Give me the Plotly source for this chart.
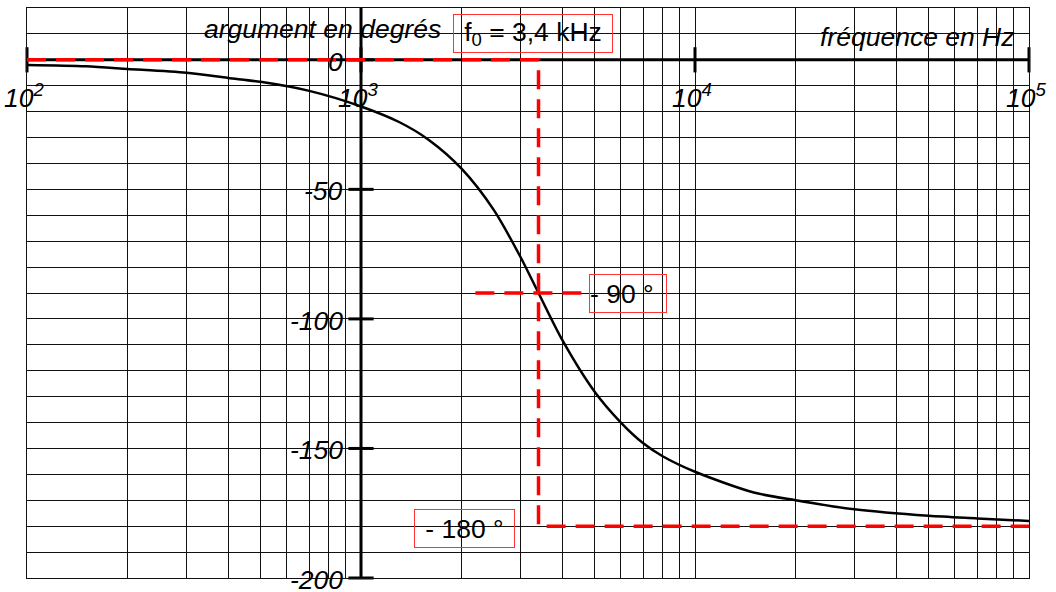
import numpy as np
import plotly.graph_objects as go

# Phase response of the filter (frequency in Hz, phase in degrees)
freq_hz = [100, 150, 200, 300, 400, 500, 700, 1000, 1300, 1600, 2000, 2500, 3000,
           3400, 4000, 5000, 6000, 7000, 8000, 10000, 15000, 20000, 30000, 50000,
           70000, 100000]
phase_deg = [-2, -2.5, -3.5, -5, -7, -8.5, -12, -18, -24, -31, -42, -58, -76,
             -90, -108, -128, -140, -148, -153, -159, -167, -170, -173.5, -176,
             -177, -178]

# Cut-off frequency and reference phases
f0_hz = 3400
phase_f0 = -90
phase_hf = -180
f_min, f_max = 100, 100000
y_min, y_max = -200, 20

# Axis decorations
decades = [2, 3, 4, 5]
y_ticks = [0, -50, -100, -150, -200]
y_tick_labels = ["0", "-50", "-100", "-150", "-200"]
grid_x = [m * 10 ** d for d in range(2, 5) for m in range(1, 10)] + [10 ** 5]
grid_y = list(range(-200, 21, 10))

FONT = "Liberation Sans, Arial, sans-serif"
BIG = 26.5

fig = go.Figure()

# axis lines through the origin (x at 0°, y at 1 kHz)
fig.add_trace(go.Scatter(x=[f_min, f_max], y=[0, 0], mode="lines",
                         line=dict(color="black", width=3), hoverinfo="skip"))
fig.add_trace(go.Scatter(x=[1000, 1000], y=[y_min, y_max], mode="lines",
                         line=dict(color="black", width=3), hoverinfo="skip"))

# tick marks crossing the axes
fig.add_trace(go.Scatter(x=[10 ** d for d in decades], y=[0] * len(decades),
                         mode="markers", cliponaxis=False,
                         marker=dict(symbol="line-ns", size=18,
                                     line=dict(color="black", width=3)),
                         hoverinfo="skip"))
fig.add_trace(go.Scatter(x=[1000] * len(y_ticks), y=y_ticks,
                         mode="markers", cliponaxis=False,
                         marker=dict(symbol="line-ew", size=18,
                                     line=dict(color="black", width=3)),
                         hoverinfo="skip"))

# phase curve
fig.add_trace(go.Scatter(x=freq_hz, y=phase_deg, mode="lines",
                         line=dict(color="black", width=2.5, shape="spline",
                                   smoothing=0.8),
                         hoverinfo="skip"))

# construction lines for f0 and the asymptote
red_dash = dict(color="#ff0000", width=3.5, dash="19px,10px")
fig.add_trace(go.Scatter(x=[f_min, f0_hz, f0_hz, f_max],
                         y=[0, 0, phase_hf, phase_hf], mode="lines",
                         line=red_dash, hoverinfo="skip"))
fig.add_trace(go.Scatter(x=[2200, 4800], y=[phase_f0, phase_f0], mode="lines",
                         line=red_dash, hoverinfo="skip"))

annotations = []
for d in decades:
    annotations.append(dict(x=d, y=-14, xref="x", yref="y", showarrow=False,
                            text=f"<i>10<sup>{d}</sup></i>", xanchor="center",
                            yanchor="middle", xshift=-3,
                            font=dict(family=FONT, size=BIG, color="black")))
for v, lab in zip(y_ticks, y_tick_labels):
    annotations.append(dict(x=3, y=v, xref="x", yref="y", showarrow=False,
                            text=f"<i>{lab}</i>", xanchor="right",
                            yanchor="middle", xshift=-16, yshift=-2,
                            font=dict(family=FONT, size=BIG, color="black")))
annotations.append(dict(x=2.885, y=12, xref="x", yref="y", showarrow=False,
                        text="<i>argument en degrés</i>", xanchor="center",
                        yanchor="middle",
                        font=dict(family=FONT, size=BIG, color="black")))
annotations.append(dict(x=4.665, y=9, xref="x", yref="y", showarrow=False,
                        text="<i>fréquence en Hz</i>", xanchor="center",
                        yanchor="middle",
                        font=dict(family=FONT, size=BIG, color="black")))

box = dict(showarrow=False, xref="x", yref="y", bordercolor="#ff3333",
           borderwidth=1, borderpad=0, xanchor="center", yanchor="middle",
           font=dict(family=FONT, size=BIG, color="black"))
annotations.append(dict(box, x=3.515, y=10.3, text="f<sub>0</sub> = 3,4 kHz",
                        width=158, height=37))
annotations.append(dict(box, x=3.799, y=-90, text="- 90 °", width=76,
                        height=37, align="left"))
annotations.append(dict(box, x=3.310, y=-181, text="- 180 °", width=99,
                        height=37))

fig.update_layout(
    width=1056, height=592,
    margin=dict(l=27, r=27, t=8, b=14),
    paper_bgcolor="white", plot_bgcolor="white",
    showlegend=False,
    annotations=annotations,
    xaxis=dict(type="log", range=[2, 5], tickvals=grid_x, showticklabels=False,
               ticks="", showgrid=True, gridcolor="#111", gridwidth=1,
               showline=True, mirror=True, linecolor="#111", linewidth=1,
               zeroline=False),
    yaxis=dict(range=[y_min, y_max], tickvals=grid_y, showticklabels=False,
               ticks="", showgrid=True, gridcolor="#111", gridwidth=1,
               showline=True, mirror=True, linecolor="#111", linewidth=1,
               zeroline=False),
)

fig.write_html("out.html")
